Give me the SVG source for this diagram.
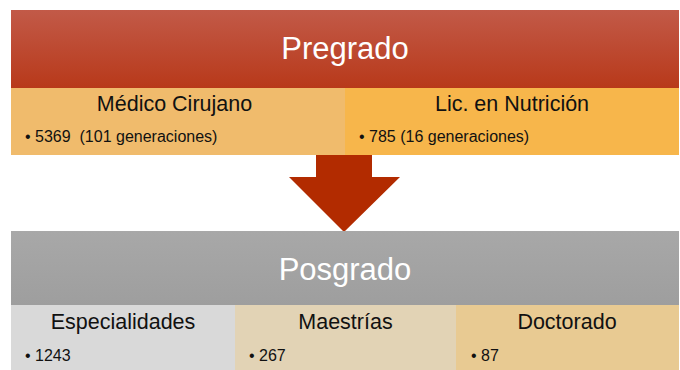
<svg xmlns="http://www.w3.org/2000/svg" width="680" height="370" viewBox="0 0 680 370">
<defs>
<linearGradient id="gRed" x1="0" y1="0" x2="0" y2="1">
<stop offset="0" stop-color="#C25A48"/>
<stop offset="1" stop-color="#B8391A"/>
</linearGradient>
<linearGradient id="gGray" x1="0" y1="0" x2="0" y2="1">
<stop offset="0" stop-color="#A8A8A8"/>
<stop offset="1" stop-color="#9E9E9E"/>
</linearGradient>
<style>
text{font-family:"Liberation Sans",Arial,sans-serif;}
.title{font-size:31px;fill:#FFFFFF;text-anchor:middle;}
.head{font-size:21.5px;fill:#111111;text-anchor:middle;}
.item{font-size:16px;fill:#111111;white-space:pre;}
</style>
</defs>
<rect width="680" height="370" fill="#FFFFFF"/>
<g id="pregrado">
<rect x="11" y="10" width="668" height="78" fill="url(#gRed)"/>
<text class="title" x="345" y="59">Pregrado</text>
</g>
<g id="medico">
<rect x="11" y="88" width="334" height="67" fill="#F0BB6C"/>
<text class="head" x="174.5" y="111">Médico Cirujano</text>
<text class="item" x="25" y="142" xml:space="preserve">• 5369  (101 generaciones)</text>
</g>
<g id="nutricion">
<rect x="345" y="88" width="334" height="67" fill="#F7B64B"/>
<text class="head" x="512" y="111">Lic. en Nutrición</text>
<text class="item" x="359" y="142">• 785 (16 generaciones)</text>
</g>
<g id="connectors">
<polygon points="316,155 372,155 372,177 400,177 344,232 289,177 316,177" fill="#B22B00"/>
</g>
<g id="posgrado">
<rect x="11" y="231" width="668" height="74" fill="url(#gGray)"/>
<text class="title" x="345" y="280">Posgrado</text>
</g>
<g id="especialidades">
<rect x="11" y="305" width="224" height="65" fill="#D9D9D9"/>
<text class="head" x="123" y="329">Especialidades</text>
<text class="item" x="25" y="361">• 1243</text>
</g>
<g id="maestrias">
<rect x="235" y="305" width="221" height="65" fill="#E2D3B5"/>
<text class="head" x="345.5" y="329">Maestrías</text>
<text class="item" x="249" y="361">• 267</text>
</g>
<g id="doctorado">
<rect x="456" y="305" width="223" height="65" fill="#E8CA92"/>
<text class="head" x="567" y="329">Doctorado</text>
<text class="item" x="471" y="361">• 87</text>
</g>
</svg>
